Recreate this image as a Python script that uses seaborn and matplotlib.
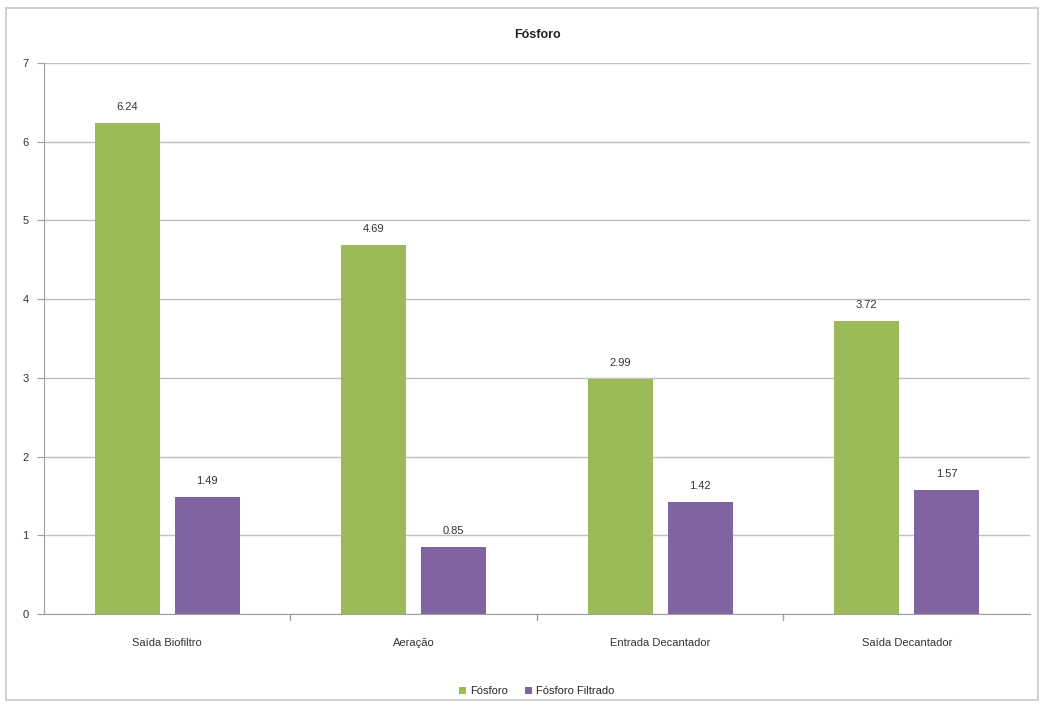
import matplotlib
matplotlib.use("Agg")
import matplotlib.pyplot as plt
import seaborn as sns
import pandas as pd
from matplotlib.patches import Rectangle

categories = ["Saída Biofiltro", "Aeração", "Entrada Decantador", "Saída Decantador"]
fosforo = [6.24, 4.69, 2.99, 3.72]
fosforo_filtrado = [1.49, 0.85, 1.42, 1.57]
series_names = ["Fósforo", "Fósforo Filtrado"]
y_ticks = [0, 1, 2, 3, 4, 5, 6, 7]

df = pd.DataFrame({
    "categoria": categories * 2,
    "valor": fosforo + fosforo_filtrado,
    "serie": [series_names[0]] * len(categories) + [series_names[1]] * len(categories),
})

sns.set_style("white")
plt.rcParams["font.family"] = ["Liberation Sans Narrow", "Liberation Sans", "DejaVu Sans"]

fig = plt.figure(figsize=(10.44, 7.06), dpi=100)
ax = fig.add_axes([0.0421, 0.1303, 0.9445, 0.7805])

# outer chart border
fig.patches.append(Rectangle((0.006, 0.008), 0.988, 0.98, transform=fig.transFigure,
                             fill=False, edgecolor="#c8c8c8", linewidth=1.2))

palette = {series_names[0]: "#9BBB59", series_names[1]: "#8064A2"}
sns.barplot(data=df, x="categoria", y="valor", hue="serie", palette=palette,
            width=0.65, gap=0.19, ax=ax, saturation=1, legend=True, linewidth=0)

for container in ax.containers:
    ax.bar_label(container, fmt="%.2f", padding=8, fontsize=8, color="#333333")

ax.set_ylim(0, 7)
ax.set_xlim(-0.5, 3.5)
ax.set_yticks(y_ticks)
ax.set_yticklabels([str(t) for t in y_ticks], fontsize=8, color="#333333")
ax.tick_params(axis="x", labelsize=8, colors="#333333", pad=17, length=0)
ax.tick_params(axis="y", pad=6, length=5, color="#a0a0a0", direction="out", left=True)
ax.set_xlabel("")
ax.set_ylabel("")
ax.yaxis.grid(True, color="#c0c0c0", linewidth=1)
ax.set_axisbelow(True)

for s in ["top", "right"]:
    ax.spines[s].set_visible(False)
ax.spines["left"].set_color("#a0a0a0")
ax.spines["bottom"].set_color("#a0a0a0")

# category boundary ticks along the baseline
for xb in [0.5, 1.5, 2.5]:
    ax.plot([xb, xb], [0, -0.07], color="#a0a0a0", linewidth=1, clip_on=False)

ax.set_title("Fósforo", fontsize=9, fontweight="bold", color="#222222", pad=18)

handles, labels = ax.get_legend_handles_labels()
ax.legend(handles, labels, loc="center", bbox_to_anchor=(0.5, -0.14), ncol=2,
          frameon=False, fontsize=8, handlelength=0.6, handleheight=0.6,
          columnspacing=1.5, handletextpad=0.4)

fig.savefig("out.png", dpi=100, facecolor="white")
